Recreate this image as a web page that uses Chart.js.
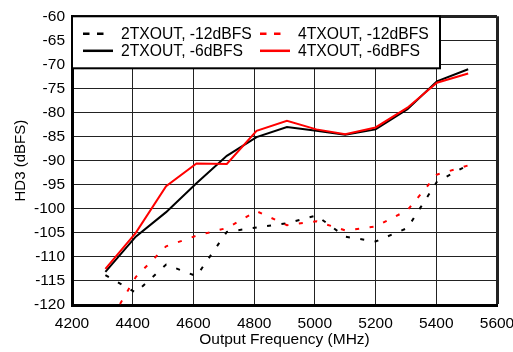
<!DOCTYPE html>
<html lang="en">
<head>
  <meta charset="UTF-8">
  <title>HD3 vs Output Frequency</title>
  <script src="https://cdn.jsdelivr.net/npm/chart.js"></script>
  <style>
    body {
      margin: 0;
      background: #fff;
    }
    .chart {
      width: 513px;
      height: 352px;
    }
  </style>
</head>
<body>

  <div class="chart">
    <canvas id="hd3Chart"></canvas>
  </div>

  <script>
    // output frequency (MHz) of each measured point
    const freqs = [4310, 4410, 4510, 4610, 4710, 4808, 4908, 5005, 5100, 5200, 5305, 5402, 5505];

    // HD3 (dBFS)
    const tx2Minus12 = [-113.8, -117.4, -111.6, -114.0, -104.8, -103.9, -103.0, -101.4, -105.8, -106.8, -104.0, -94.4, -90.9];
    const tx4Minus12 = [-125.0, -114.2, -107.8, -105.6, -104.0, -100.5, -103.4, -102.6, -104.5, -103.7, -100.3, -92.9, -91.0];
    const tx2Minus6 = [-113.1, -105.8, -100.7, -94.7, -89.0, -85.1, -83.0, -83.8, -84.6, -83.5, -79.3, -73.5, -71.0];
    const tx4Minus6 = [-112.5, -105.0, -95.3, -90.6, -90.7, -83.8, -81.7, -83.5, -84.5, -83.1, -79.0, -73.8, -71.9];

    const seriesLabels = ['2TXOUT, -12dBFS', '4TXOUT, -12dBFS', '2TXOUT, -6dBFS', '4TXOUT, -6dBFS'];

    const yTicksMin = -120;
    const yTicksMax = -60;
    const yStep = 5;
    const xTicksMin = 4200;
    const xTicksMax = 5600;
    const xStep = 200;

    const FONT = 'Liberation Sans, Arial, sans-serif';

    function toPoints(values) {
      return values.map((v, i) => ({ x: freqs[i], y: v }));
    }

    // boxed legend drawn inside the plot, top-left
    const boxLegend = {
      id: 'boxLegend',
      afterDatasetsDraw(chart) {
        const ctx = chart.ctx;
        const area = chart.chartArea;
        const left = area.left;
        const top = area.top;
        const width = 368;
        const height = 52;

        ctx.save();
        ctx.fillStyle = '#fff';
        ctx.fillRect(left, top, width, height);
        ctx.lineWidth = 2;
        ctx.strokeStyle = '#000';
        ctx.strokeRect(left, top, width, height);

        ctx.font = '15.7px ' + FONT;
        ctx.textBaseline = 'middle';
        ctx.textAlign = 'left';
        chart.data.datasets.forEach((ds, i) => {
          const col = i % 2;
          const row = Math.floor(i / 2);
          const x = left + 11 + col * 177;
          const y = top + 17.5 + row * 17;
          const dashed = ds.borderDash && ds.borderDash.length;
          ctx.beginPath();
          ctx.setLineDash(dashed ? [6.5, 7.5] : []);
          ctx.lineWidth = 2.5;
          ctx.strokeStyle = ds.borderColor;
          ctx.moveTo(x, y);
          ctx.lineTo(x + (dashed ? 20.5 : 30), y);
          ctx.stroke();
          ctx.setLineDash([]);
          ctx.fillStyle = '#000';
          ctx.fillText(ds.label, x + 38, y + 1);
        });
        ctx.restore();
      }
    };

    const dash = [4, 10.5];

    const hd3Chart = new Chart(document.getElementById('hd3Chart').getContext('2d'), {
      type: 'line',
      data: {
        datasets: [{
          label: seriesLabels[0],
          data: toPoints(tx2Minus12),
          borderColor: '#000',
          borderDash: dash,
          order: 3,
        }, {
          label: seriesLabels[1],
          data: toPoints(tx4Minus12),
          borderColor: '#ff0000',
          borderDash: dash,
          order: 2,
        }, {
          label: seriesLabels[2],
          data: toPoints(tx2Minus6),
          borderColor: '#000',
          order: 1,
        }, {
          label: seriesLabels[3],
          data: toPoints(tx4Minus6),
          borderColor: '#ff0000',
          order: 0,
        }],
      },
      options: {
        responsive: true,
        maintainAspectRatio: false,
        animation: false,
        devicePixelRatio: 1,
        layout: { padding: { left: 0, top: 16, right: 0, bottom: 0 } },
        elements: {
          point: { radius: 0 },
          line: { borderWidth: 2, tension: 0, fill: false },
        },
        plugins: {
          legend: { display: false },
          tooltip: { enabled: false },
        },
        scales: {
          x: {
            type: 'linear',
            min: xTicksMin,
            max: xTicksMax,
            afterFit: (scale) => {
              scale.height = 47;
              scale.paddingRight = 16;
            },
            ticks: {
              stepSize: xStep,
              color: '#000',
              padding: 9,
              maxRotation: 0,
              callback: (v) => String(v),
              font: { family: FONT, size: 15.5 },
            },
            grid: {
              color: '#222',
              lineWidth: (c) => (c.tick && c.tick.value === xTicksMax ? 3 : 1),
              drawTicks: false,
            },
            border: { color: '#000', width: 3 },
            title: {
              display: true,
              text: 'Output Frequency (MHz)',
              color: '#000',
              padding: { top: 0, bottom: 3 },
              font: { family: FONT, size: 15.5 },
            },
          },
          y: {
            min: yTicksMin,
            max: yTicksMax,
            afterFit: (scale) => { scale.width = 72; },
            ticks: {
              stepSize: yStep,
              color: '#000',
              padding: 7,
              callback: (v) => String(v),
              font: { family: FONT, size: 15.5 },
            },
            grid: {
              color: '#222',
              lineWidth: (c) => (c.tick && c.tick.value === yTicksMax ? 3 : 1),
              drawTicks: false,
            },
            border: { color: '#000', width: 3 },
            title: {
              display: true,
              text: 'HD3 (dBFS)',
              color: '#000',
              padding: { top: 12, bottom: 0 },
              font: { family: FONT, size: 15 },
            },
          },
        },
      },
      plugins: [boxLegend],
    });
  </script>
</body>
</html>
